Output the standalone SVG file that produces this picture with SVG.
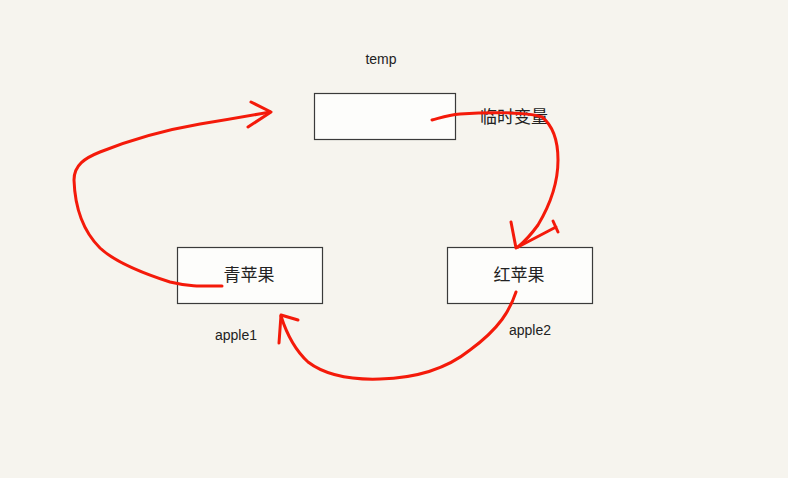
<svg xmlns="http://www.w3.org/2000/svg" width="788" height="478" viewBox="0 0 788 478">
<style>
.box{fill:#fdfdfb;stroke:#3a3a3a;stroke-width:1.2}
.lbl{font-family:"Liberation Sans","Noto Sans CJK SC",sans-serif;fill:#222}
.cn{font-size:17px}
.en{font-size:14px}
.ink{fill:none;stroke:#f41a0a;stroke-width:3;stroke-linecap:round;stroke-linejoin:round}
</style>
<rect width="788" height="478" fill="#f6f4ee"/>
<g id="temp">
<rect class="box" x="314.5" y="93.5" width="141" height="46"/>
<text class="lbl en" x="381" y="64" text-anchor="middle">temp</text>
</g>
<g id="tempnote">
<text class="lbl cn" x="480" y="123">临时变量</text>
</g>
<g id="apple1">
<rect class="box" x="177.5" y="247.5" width="145" height="56"/>
<text class="lbl cn" x="249" y="281" text-anchor="middle">青苹果</text>
<text class="lbl en" x="236" y="340" text-anchor="middle">apple1</text>
</g>
<g id="apple2">
<rect class="box" x="447.5" y="247.5" width="145" height="56"/>
<text class="lbl cn" x="519" y="281" text-anchor="middle">红苹果</text>
<text class="lbl en" x="530" y="335" text-anchor="middle">apple2</text>
</g>
<g id="connectors">
<path class="ink" d="M432,120 C440,118 448,115 460,114 C490,112 530,112 542,117 C552,125 558,140 558,160 C558,185 550,205 538,225 C530,236 524,242 518,247"/>
<path class="ink" d="M511,222 L516,248 L556,227 M553,221 L558,232"/>
<path class="ink" d="M222,286 C205,286 190,287 170,282 C145,274 115,262 100,248 C84,232 75,210 74,180 C74,165 85,158 100,152 C130,140 165,130 200,124 C225,120 248,116 270,112"/>
<path class="ink" d="M251,102 L271,112 L248,127"/>
<path class="ink" d="M516,292 C510,310 500,328 470,350 C450,366 420,378 380,379 C350,380 325,375 308,362 C295,350 287,335 281,316"/>
<path class="ink" d="M279,343 L281,315 L298,320"/>
</g>
</svg>
